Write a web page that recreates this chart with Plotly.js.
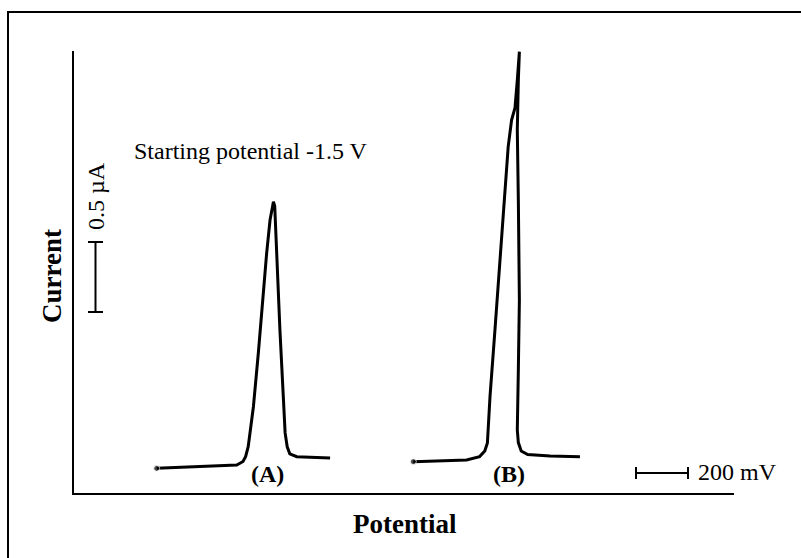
<!DOCTYPE html>
<html>
<head>
<meta charset="utf-8">
<script src="https://cdn.plot.ly/plotly-3.0.1.min.js"></script>
<style>html,body{margin:0;padding:0;background:#fff;}#chart{width:801px;height:558px;}</style>
</head>
<body>
<div id="chart"></div>
<script>
// Peak (A): potential (mV, relative) vs current (µA, relative)
var peakA_x = [318, 500, 626, 650, 660, 670, 690, 709, 728, 741, 754, 762, 767, 772, 776, 780, 792, 805, 812, 820, 830, 857, 946, 985];
var peakA_y = [0.176, 0.19, 0.200, 0.225, 0.26, 0.331, 0.616, 1.000, 1.450, 1.714, 1.950, 2.05, 2.081, 2.05, 1.85, 1.643, 1.164, 0.688, 0.429, 0.33, 0.28, 0.259, 0.25, 0.25];
// Peak (B)
var peakB_x = [1305, 1420, 1510, 1560, 1580, 1590, 1600, 1619, 1638, 1658, 1670, 1683, 1696, 1705, 1713, 1709, 1705, 1709, 1713, 1709, 1705, 1709, 1720, 1745, 1767, 1831, 1946];
var peakB_y = [0.224, 0.228, 0.236, 0.26, 0.30, 0.357, 0.688, 1.164, 1.643, 2.116, 2.474, 2.664, 2.75, 2.95, 3.152, 2.95, 2.593, 2.093, 1.379, 0.879, 0.45, 0.36, 0.30, 0.275, 0.271, 0.264, 0.259];
var peakLabels = ["(A)", "(B)"];
// Scale bars
var scaleCurrent = [0.5];          // µA
var scaleCurrentLabel = ["0.5 µA"];
var scalePotential = [200];        // mV
var scalePotentialLabel = ["200 mV"];
var noteText = ["Starting potential -1.5 V"];
var axisTitles = ["Potential", "Current"];

var L = 74, R = 734, T = 51, B = 493, W = 801, H = 558;
var xMax = (R - L) / 0.26, yMax = (B - T) / 140;
function px(p){ return (p - L) / (R - L); }
function py(p){ return (B - p) / (B - T); }
function dx(p){ return (p - L) / 0.26; }
function dy(p){ return (B - p) / 140; }

var FONT = "Liberation Serif, Times New Roman, serif";
function sizes(n){ var s = []; for (var i = 0; i < n; i++) s.push(i === 0 ? 6 : 0); return s; }

var traces = [
  {x: peakA_x, y: peakA_y, mode: "lines+markers", line: {color: "#000", width: 3}, marker: {color: "#000", size: sizes(peakA_x.length)}, cliponaxis: false, hoverinfo: "skip"},
  {x: peakB_x, y: peakB_y, mode: "lines+markers", line: {color: "#000", width: 3}, marker: {color: "#000", size: sizes(peakB_x.length)}, cliponaxis: false, hoverinfo: "skip"}
];

var vbX = dx(95.5), vbY0 = dy(312), capHalfX = dx(103) - dx(95.5);
var hbX0 = dx(636), hbY = dy(473), capHalfY = 0.043;
var shapes = [
  {type: "rect", xref: "paper", yref: "paper", x0: px(8), x1: px(830), y0: py(12), y1: py(600), line: {color: "#000", width: 2}},
  // vertical current scale bar
  {type: "line", xref: "x", yref: "y", x0: vbX, x1: vbX, y0: vbY0, y1: vbY0 + scaleCurrent[0], line: {color: "#000", width: 2}},
  {type: "line", xref: "x", yref: "y", x0: vbX - capHalfX, x1: vbX + capHalfX, y0: vbY0, y1: vbY0, line: {color: "#000", width: 2}},
  {type: "line", xref: "x", yref: "y", x0: vbX - capHalfX, x1: vbX + capHalfX, y0: vbY0 + scaleCurrent[0], y1: vbY0 + scaleCurrent[0], line: {color: "#000", width: 2}},
  // horizontal potential scale bar
  {type: "line", xref: "x", yref: "y", x0: hbX0, x1: hbX0 + scalePotential[0], y0: hbY, y1: hbY, line: {color: "#000", width: 2}},
  {type: "line", xref: "x", yref: "y", x0: hbX0, x1: hbX0, y0: hbY - capHalfY, y1: hbY + capHalfY, line: {color: "#000", width: 2}},
  {type: "line", xref: "x", yref: "y", x0: hbX0 + scalePotential[0], x1: hbX0 + scalePotential[0], y0: hbY - capHalfY, y1: hbY + capHalfY, line: {color: "#000", width: 2}}
];

var annotations = [
  {xref: "paper", yref: "paper", x: px(132), y: py(151), xanchor: "left", yanchor: "middle", text: noteText[0], showarrow: false, font: {family: FONT, size: 24, color: "#000"}},
  {xref: "paper", yref: "paper", x: px(96), y: py(196), xanchor: "center", yanchor: "middle", textangle: -90, text: scaleCurrentLabel[0], showarrow: false, font: {family: FONT, size: 24, color: "#000"}},
  {xref: "paper", yref: "paper", x: px(696), y: py(472), xanchor: "left", yanchor: "middle", text: scalePotentialLabel[0], showarrow: false, font: {family: FONT, size: 24, color: "#000"}},
  {xref: "paper", yref: "paper", x: px(267), y: py(474), xanchor: "center", yanchor: "middle", text: "<b>" + peakLabels[0] + "</b>", showarrow: false, font: {family: FONT, size: 24, color: "#000"}},
  {xref: "paper", yref: "paper", x: px(509), y: py(474), xanchor: "center", yanchor: "middle", text: "<b>" + peakLabels[1] + "</b>", showarrow: false, font: {family: FONT, size: 24, color: "#000"}},
  {xref: "paper", yref: "paper", x: px(405), y: py(524), xanchor: "center", yanchor: "middle", text: "<b>" + axisTitles[0] + "</b>", showarrow: false, font: {family: FONT, size: 27, color: "#000"}},
  {xref: "paper", yref: "paper", x: px(52), y: py(276), xanchor: "center", yanchor: "middle", textangle: -90, text: "<b>" + axisTitles[1] + "</b>", showarrow: false, font: {family: FONT, size: 27, color: "#000"}}
];

var layout = {
  width: W, height: H,
  margin: {l: L, r: W - R, t: T, b: H - B, pad: 0},
  paper_bgcolor: "#fff", plot_bgcolor: "#fff",
  showlegend: false,
  xaxis: {range: [0, xMax], showline: true, linecolor: "#000", linewidth: 2, showgrid: false, zeroline: false, ticks: "", showticklabels: false, fixedrange: true},
  yaxis: {range: [0, yMax], showline: true, linecolor: "#000", linewidth: 2, showgrid: false, zeroline: false, ticks: "", showticklabels: false, fixedrange: true},
  shapes: shapes,
  annotations: annotations
};

Plotly.newPlot("chart", traces, layout, {displayModeBar: false, staticPlot: true});
</script>
</body>
</html>
